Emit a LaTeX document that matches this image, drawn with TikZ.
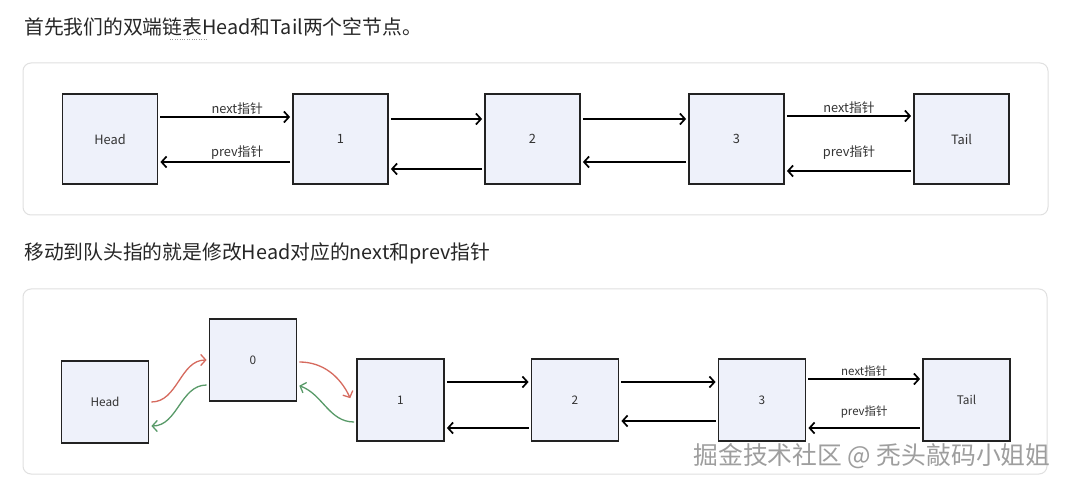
\documentclass[tikz,border=0pt]{standalone}
\usepackage{fontspec}
\setmainfont{Noto Sans CJK SC}
\usepackage{xcolor}
\usepackage{tikz}
\usetikzlibrary{arrows.meta}
\usetikzlibrary{positioning}
\definecolor{boxfill}{RGB}{238,241,250}
\definecolor{boxline}{RGB}{34,34,34}
\definecolor{panelline}{RGB}{224,224,224}
\definecolor{txt}{RGB}{51,51,51}
\definecolor{redp}{RGB}{214,106,94}
\definecolor{greenp}{RGB}{88,154,104}
\tikzset{
    Box/.style = {rectangle, draw=boxline, line width=1.8pt, fill=boxfill, text=txt, align=center, inner sep=0pt, minimum width=95pt, minimum height=90pt},
    Boxs/.style = {Box, minimum width=87pt, minimum height=82pt, font=\fontsize{11.8}{13}\selectfont},
    panel/.style = {draw=panelline, line width=1pt, rounded corners=8pt, fill=white},
    title/.style = {anchor=west, text=black!85, inner sep=0pt, font=\fontsize{19.8}{22}\selectfont},
}

\begin{document}
\begin{tikzpicture}[
	x=1pt, y=-1pt,
	font=\fontsize{12.8}{14}\selectfont
]
\tikzset{
    edgen/.style = {-{Straight Barb[length=5pt,width=11pt]}, line width=1.7pt, black, shorten >=2pt, shorten <=2pt},
    edger/.style = {edgen, line width=1.3pt, redp},
    edgeg/.style = {edgen, line width=1.3pt, greenp},
    lbl/.style = {above, inner sep=2pt, text=txt},
    lbls/.style = {lbl, font=\fontsize{11.5}{13}\selectfont},
    wm/.style = {text=black!38, inner sep=0pt, font=\fontsize{24.8}{27}\selectfont}
}
\fill[white] (0,0) rectangle (1069,486);
\useasboundingbox (0,0) rectangle (1069,486);
%
\node[title] at (24,27) (t1) {首先我们的双端链表Head和Tail两个空节点。};
\draw[dotted, black!40] (170,39) -- (207,39);
\node[title] at (24,253) (t2) {移动到队头指的就是修改Head对应的next和prev指针};
%
\draw[panel] (23,63) rectangle (1048,215);
\draw[panel] (23,289) rectangle (1047,474);
%
\node[Box] at (110,139) (h) {Head};
\node[Box] at (340.5,139) (n1) {1};
\node[Box] at (532.5,139) (n2) {2};
\node[Box] at (736.5,139) (n3) {3};
\node[Box] at (961.5,139) (t) {Tail};
%
\draw[edgen] ([yshift=22]h.east) -- node[lbl, xshift=12] {next指针} ([yshift=22]n1.west);
\draw[edgen] ([yshift=-23]n1.west) -- node[lbl, xshift=12] {prev指针} ([yshift=-23]h.east);
\draw[edgen] ([yshift=20]n1.east) -- ([yshift=20]n2.west);
\draw[edgen] ([yshift=-30]n2.west) -- ([yshift=-30]n1.east);
\draw[edgen] ([yshift=20]n2.east) -- ([yshift=20]n3.west);
\draw[edgen] ([yshift=-23]n3.west) -- ([yshift=-23]n2.east);
\draw[edgen] ([yshift=23]n3.east) -- node[lbl] {next指针} ([yshift=23]t.west);
\draw[edgen] ([yshift=-32]t.west) -- node[lbl, yshift=9] {prev指针} ([yshift=-32]n3.east);
%
\node[Boxs] at (105,402) (hh) {Head};
\node[Boxs] at (253,360) (m0) {0};
\node[Boxs] at (400.5,400) (m1) {1};
\node[Boxs] at (575,400) (m2) {2};
\node[Boxs] at (762,400) (m3) {3};
\node[Boxs] at (966.5,400) (tt) {Tail};
%
\draw[edger] (hh.east) to[out=0, in=180] (m0.west);
\draw[edgeg] ([yshift=-25]m0.west) to[out=180, in=0] ([yshift=-24]hh.east);
\draw[edger] ([yshift=-2]m0.east) to[out=0, in=115] ([xshift=-5]m1.west);
\draw[edgeg] ([yshift=-22]m1.west) to[out=180, in=-20] ([yshift=-25]m0.east);
%
\draw[edgen] ([yshift=18]m1.east) -- ([yshift=18]m2.west);
\draw[edgen] ([yshift=-28]m2.west) -- ([yshift=-28]m1.east);
\draw[edgen] ([yshift=18]m2.east) -- ([yshift=18]m3.west);
\draw[edgen] ([yshift=-21]m3.west) -- ([yshift=-21]m2.east);
\draw[edgen] ([yshift=21]m3.east) -- node[lbls] {next指针} ([yshift=21]tt.west);
\draw[edgen] ([yshift=-28]tt.west) -- node[lbls, yshift=7] {prev指针} ([yshift=-28]m3.east);
%
\node[wm] at (872,456) (w) {掘金技术社区 @ 秃头敲码小姐姐};
\end{tikzpicture}
\end{document}
